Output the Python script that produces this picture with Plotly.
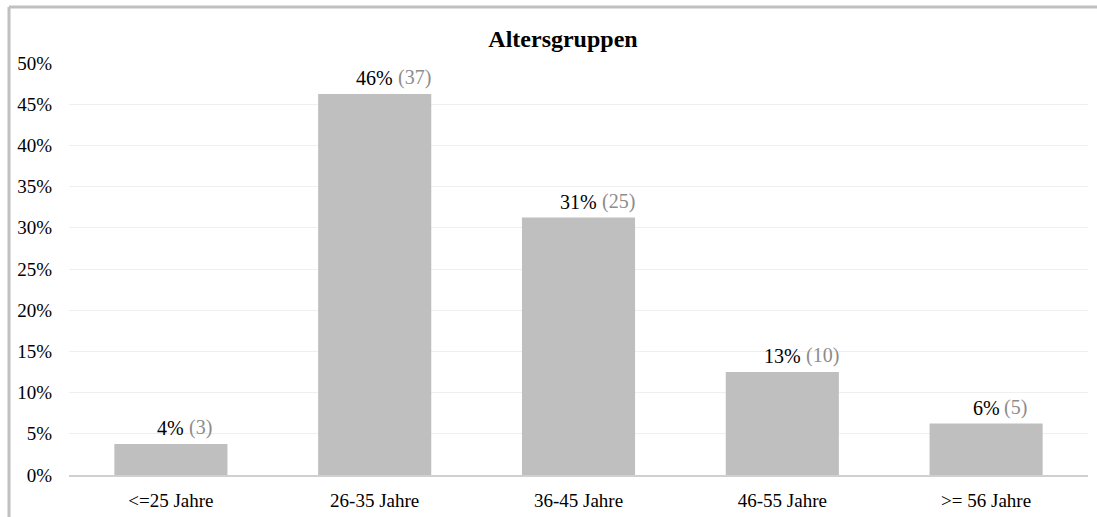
import math
import plotly.graph_objects as go

# Age groups of respondents
categories = ["<=25 Jahre", "26-35 Jahre", "36-45 Jahre", "46-55 Jahre", ">= 56 Jahre"]
counts = [3, 37, 25, 10, 5]
y_ticks = [0, 5, 10, 15, 20, 25, 30, 35, 40, 45, 50]

total = sum(counts)
percents = [c / total * 100 for c in counts]
pct_labels = [f"{math.floor(p + 0.5)}%" for p in percents]
count_labels = [f"({c})" for c in counts]

FONT = "Liberation Serif, Times New Roman, serif"
LABEL_SIZE = 20

fig = go.Figure(
    go.Bar(
        x=categories,
        y=percents,
        marker=dict(color="#bfbfbf", line=dict(width=0)),
        hoverinfo="skip",
    )
)

W, H = 1097, 517
ML, MR, MT, MB = 69, 9, 63, 42

# Percentage centred above each bar, count in grey just to its right
for cat, p, pl, cl in zip(categories, percents, pct_labels, count_labels):
    fig.add_annotation(
        x=cat, y=p, text=pl, showarrow=False,
        xanchor="center", yanchor="bottom", yshift=3,
        font=dict(family=FONT, size=LABEL_SIZE, color="#000000"),
    )
    half_w = (0.5 * (len(pl) - 1) + 0.833) * LABEL_SIZE / 2
    fig.add_annotation(
        x=cat, y=p, text=cl, showarrow=False,
        xanchor="left", yanchor="bottom", yshift=3, xshift=half_w + 3,
        font=dict(family=FONT, size=LABEL_SIZE, color="#8c8c8c"),
    )

fig.update_layout(
    width=W,
    height=H,
    margin=dict(l=ML, r=MR, t=MT, b=MB),
    paper_bgcolor="white",
    plot_bgcolor="white",
    bargap=0.445,
    showlegend=False,
    font=dict(family=FONT, size=19, color="#000000"),
    title=dict(
        text="<b>Altersgruppen</b>",
        x=563 / W,
        xanchor="center",
        y=1 - 39 / H,
        yanchor="middle",
        font=dict(family=FONT, size=24, color="#000000"),
    ),
    xaxis=dict(
        showgrid=False,
        showline=True,
        linecolor="#d0d0d0",
        linewidth=1.5,
        ticks="",
        tickfont=dict(family=FONT, size=19),
        ticklabelstandoff=7,
        automargin=False,
    ),
    yaxis=dict(
        range=[0, 50],
        tickvals=y_ticks,
        ticktext=[f"{v}%" for v in y_ticks],
        showgrid=True,
        gridcolor="#efefef",
        gridwidth=1,
        zeroline=False,
        showline=False,
        ticks="",
        tickfont=dict(family=FONT, size=19),
        ticklabelstandoff=16,
        automargin=False,
    ),
)

# Outer frame along the top and left edges
plot_w = W - ML - MR
plot_h = H - MT - MB
fx = (9 - ML) / plot_w
fy = (H - MB - 7) / plot_h
fig.add_shape(type="line", xref="paper", yref="paper",
              x0=fx, x1=(W - ML) / plot_w + 0.01, y0=fy, y1=fy,
              line=dict(color="#c0c0c0", width=3))
fig.add_shape(type="line", xref="paper", yref="paper",
              x0=fx, x1=fx, y0=fy, y1=-MB / plot_h - 0.01,
              line=dict(color="#c0c0c0", width=3))

fig.write_html("out.html")
